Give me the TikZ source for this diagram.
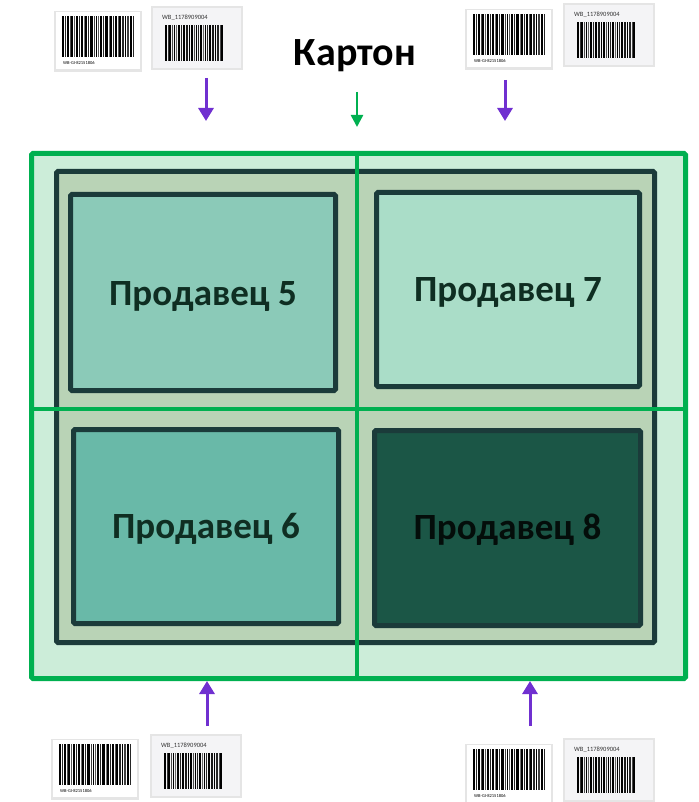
\documentclass[tikz,border=0pt]{standalone}
\usepackage{fontspec}
\setmainfont{Carlito}
\usetikzlibrary{arrows.meta}
\definecolor{kgreen}{HTML}{00B050}
\definecolor{kouter}{HTML}{CCEDD9}
\definecolor{kframe}{HTML}{B9D3B6}
\definecolor{kdark}{HTML}{1B3B3A}
\definecolor{kfive}{HTML}{8BCAB8}
\definecolor{kseven}{HTML}{AADDC8}
\definecolor{ksix}{HTML}{69B9A8}
\definecolor{keight}{HTML}{1B5646}
\definecolor{ktext}{HTML}{0F2E22}
\definecolor{kpurple}{HTML}{7030D0}
\definecolor{kcardb}{HTML}{F4F4F6}
\tikzset{
  seller/.style={draw=kdark, line width=5pt, rounded corners=1.5pt, text=ktext,
    font=\bfseries\fontsize{37}{44}\selectfont, inner sep=0pt},
  stext/.style={text=ktext, font=\bfseries\fontsize{37}{44}\selectfont, inner sep=0pt},
  parr/.style={draw=kpurple, line width=3pt, -{Triangle[width=15pt,length=13pt]}},
  garr/.style={draw=kgreen, line width=2.5pt, -{Triangle[width=12pt,length=12pt]}},
  cardA/.pic={
    \fill[black!10] (-2,-1) rectangle (86,60);
    \fill[white] (0,0) rectangle (84,57);
    \foreach \o/\w/\g in {0/1.5/100,2.5/1/85,4.5/2/100,7.5/1/70,9/1.5/100,12/0.8/65,13.5/2.5/100,17/1/85,19/1.5/100,21.5/0.8/55,23/2/100,26/1/85,28/3/100,32/1/75,33.5/1.5/100,36/0.8/65,38/2/100,41/1/85,43/2.5/100,46.5/1/55,48/1.5/100,50.5/0.8/85,52.5/2/100,55.5/1/65,57/1.5/100,59.5/2.5/85,63/1/100,65/1.5/75,67.5/2/100,70.5/1/85}
      \fill[black!\g] (6+\o,4) rectangle (6+\o+\w,45);
    \node[font=\fontsize{4.5}{5}\selectfont, anchor=west, inner sep=0pt] at (7,51) {WB-GI-82151806};
  },
  cardB/.pic={
    \fill[black!10] (-2,-2) rectangle (90,62);
    \fill[kcardb] (0,0) rectangle (88,60);
    \foreach \o/\w/\g in {0/1.5/100,2.5/0.8/80,4/2/100,7/1/70,8.5/1.5/100,11/0.8/60,12.5/2.5/100,16/1/85,18/1.5/100,20.5/2/90,23.5/1/100,25.5/2.5/100,29/0.8/70,30.5/1.5/100,33/1/85,35/2/100,38/0.8/60,39.5/1.5/100,42/1/85,44/2/100,47/1.5/90,49.5/1/100,51.5/2/85,54.5/0.8/70,56/1.5/100}
      \fill[black!\g] (12+\o,17) rectangle (12+\o+\w,53);
    \node[font=\fontsize{6.5}{7}\selectfont, anchor=west, inner sep=0pt, text=black!80] at (9,10) {WB\_1178909004};
  }
}
\begin{document}
\begin{tikzpicture}[x=1pt,y=-1pt]
\useasboundingbox (0,0) rectangle (698,802);
% outer carton
\node[draw=kgreen, fill=kouter, line width=5pt, rounded corners=1.5pt, minimum width=654pt, minimum height=525pt, inner sep=0pt] (outer) at (358.5,416) {};
% inner frame
\node[draw=kdark, fill=kframe, line width=5pt, rounded corners=1.5pt, minimum width=598pt, minimum height=471pt, inner sep=0pt] (frame) at (355.5,407) {};
% cross
\coordinate (vt) at (357,151);
\coordinate (vb) at (357,681);
\coordinate (hl) at (29,409);
\coordinate (hr) at (688,409);
\draw[kgreen, line width=4pt] (vt) -- (vb);
\draw[kgreen, line width=4pt] (hl) -- (hr);
% sellers
\node[seller, fill=kfive, minimum width=265pt, minimum height=196pt] (s5) at (203,292.5) {};
\node[seller, fill=kseven, minimum width=263pt, minimum height=194pt] (s7) at (508,289.5) {};
\node[seller, fill=ksix, minimum width=265pt, minimum height=194pt] (s6) at (206,526.5) {};
\node[seller, fill=keight, minimum width=266pt, minimum height=195pt] (s8) at (507.5,528) {};
\node[stext] (t5) at ([yshift=-4pt]s5.center) {Продавец 5};
\node[stext] (t7) at ([yshift=-3pt]s7.center) {Продавец 7};
\node[stext] (t6) at ([yshift=-2pt]s6.center) {Продавец 6};
\node[stext, text=black!85!keight] (t8) at ([yshift=-2pt]s8.center) {Продавец 8};
% title
\node[font=\bfseries\fontsize{40}{46}\selectfont, inner sep=0pt] (title) at (355,56) {Картон};
% labels
\pic at (56,12) {cardA};
\pic at (153,8) {cardB};
\pic at (467,10) {cardA};
\pic at (565,5) {cardB};
\pic at (53,740) {cardA};
\pic at (152,736) {cardB};
\pic at (467,745) {cardA};
\pic at (565,740) {cardB};
% arrows
\coordinate (a1) at (206,78);
\coordinate (a1e) at (206,121);
\coordinate (a2) at (505,80);
\coordinate (a2e) at (505,121);
\coordinate (g1) at (357,92);
\coordinate (g1e) at (357,127);
\coordinate (b1) at (207,726);
\coordinate (b1e) at (207,681);
\coordinate (b2) at (530,726);
\coordinate (b2e) at (530,681);
\draw[parr] (a1) -- (a1e);
\draw[parr] (a2) -- (a2e);
\draw[garr] (g1) -- (g1e);
\draw[parr] (b1) -- (b1e);
\draw[parr] (b2) -- (b2e);
\end{tikzpicture}
\end{document}
